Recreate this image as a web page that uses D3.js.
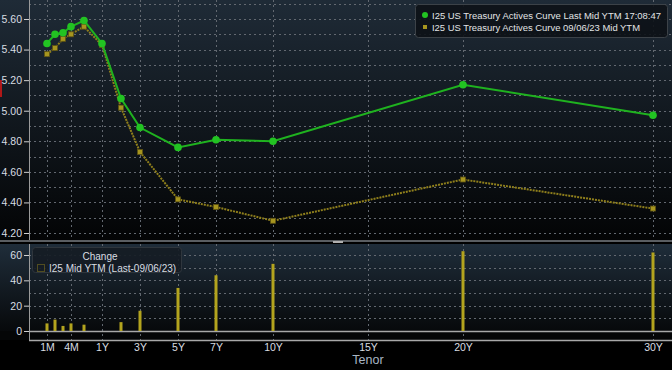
<!DOCTYPE html>
<html>
<head>
<meta charset="utf-8">
<script src="https://cdn.jsdelivr.net/npm/d3@7"></script>
<style>
  body { margin: 0; background: #000; }
  svg { display: block; }
  text { font-family: "Liberation Sans", Arial, sans-serif; }
</style>
</head>
<body>
<script>
// curve data
var tenors     = ["1M","2M","3M","4M","6M","1Y","2Y","3Y","5Y","7Y","10Y","20Y","30Y"];
var tenorYears = [1/12, 2/12, 3/12, 4/12, 6/12, 1, 2, 3, 5, 7, 10, 20, 30];
var lastYtm    = [5.44, 5.50, 5.51, 5.55, 5.59, 5.44, 5.08, 4.89, 4.76, 4.81, 4.80, 5.17, 4.97];
var prevYtm    = [5.37, 5.41, 5.47, 5.50, 5.55, 5.43, 5.02, 4.73, 4.42, 4.37, 4.28, 4.55, 4.36];
var changeBp   = [6, 9, 4, 6, 5, 0, 7, 16, 34, 44, 53, 63, 62];

var xTickLabels = ["1M","4M","1Y","3Y","5Y","7Y","10Y","15Y","20Y","30Y"];
var xTickYears  = [1/12, 4/12, 1, 3, 5, 7, 10, 15, 20, 30];
var yTicks      = [4.20, 4.40, 4.60, 4.80, 5.00, 5.20, 5.40, 5.60];
var yGrid       = [4.20, 4.30, 4.40, 4.50, 4.60, 4.70, 4.80, 4.90, 5.00, 5.10, 5.20, 5.30, 5.40, 5.50, 5.60, 5.70];
var chgTicks    = [0, 20, 40, 60];
var chgGrid     = [10, 20, 30, 40, 50, 60];

var legendTop = ["I25 US Treasury Actives Curve Last Mid YTM 17:08:47",
                 "I25 US Treasury Actives Curve 09/06/23 Mid YTM"];
var legendTopWidth = [229, 208];

var W = 672, H = 370;
var axisX = 29, rightX = 672;
var topY0 = 0, topY1 = 240;
var botY0 = 244, zeroY = 331, axisY = 340;

var green = "#22c322", olive = "#8f7f1c", bar = "#b3a41e";

var svg = d3.select("body").append("svg").attr("width", W).attr("height", H);

var defs = svg.append("defs");
var g1 = defs.append("linearGradient").attr("id", "gTop").attr("x1", 0).attr("x2", 0).attr("y1", 0).attr("y2", 1);
g1.append("stop").attr("offset", "0%").attr("stop-color", "#1f2b37");
g1.append("stop").attr("offset", "100%").attr("stop-color", "#030405");
var g2 = defs.append("linearGradient").attr("id", "gBot").attr("x1", 0).attr("x2", 0).attr("y1", 0).attr("y2", 1);
g2.append("stop").attr("offset", "0%").attr("stop-color", "#1f2d3a");
g2.append("stop").attr("offset", "100%").attr("stop-color", "#07090b");

svg.append("rect").attr("width", W).attr("height", H).attr("fill", "#000");
svg.append("rect").attr("x", 0).attr("y", topY0).attr("width", W).attr("height", topY1 - topY0).attr("fill", "url(#gTop)");
svg.append("rect").attr("x", 0).attr("y", botY0).attr("width", W).attr("height", zeroY - botY0).attr("fill", "url(#gBot)");
svg.append("rect").attr("x", 0).attr("y", zeroY).attr("width", W).attr("height", axisY - zeroY).attr("fill", "#050607");

// separator between panels
svg.append("rect").attr("x", 0).attr("y", topY1).attr("width", W).attr("height", 2).attr("fill", "#5a5e62");
svg.append("rect").attr("x", 333).attr("y", 241).attr("width", 10).attr("height", 2).attr("fill", "#b0b0b0");
svg.append("rect").attr("x", 0).attr("y", 80).attr("width", 2).attr("height", 17).attr("fill", "#b01818");

// scales: Bloomberg stretches the short end of the tenor axis
var x = d3.scaleLinear().domain([1/12, 1/3, 1/2, 1, 30]).range([47, 71, 84, 102, 653]);
var y = d3.scaleLinear().domain([4.20, 5.60]).range([233, 19]);
var yc = d3.scaleLinear().domain([0, 60]).range([zeroY, 255]);

// gridlines
var grid = svg.append("g").attr("stroke", "#626870").attr("stroke-width", 1).attr("stroke-dasharray", "2,3");
grid.selectAll(".hg").data(yGrid).enter().append("line")
  .attr("x1", axisX).attr("x2", rightX)
  .attr("y1", function (d) { return Math.round(y(d)) + 0.5; })
  .attr("y2", function (d) { return Math.round(y(d)) + 0.5; });
grid.selectAll(".hc").data(chgGrid).enter().append("line")
  .attr("x1", axisX).attr("x2", rightX)
  .attr("y1", function (d) { return Math.round(yc(d)) + 0.5; })
  .attr("y2", function (d) { return Math.round(yc(d)) + 0.5; });
grid.selectAll(".vt").data(xTickYears).enter().append("line")
  .attr("x1", function (d) { return Math.round(x(d)) + 0.5; })
  .attr("x2", function (d) { return Math.round(x(d)) + 0.5; })
  .attr("y1", topY0).attr("y2", topY1);
grid.selectAll(".vb").data(xTickYears).enter().append("line")
  .attr("x1", function (d) { return Math.round(x(d)) + 0.5; })
  .attr("x2", function (d) { return Math.round(x(d)) + 0.5; })
  .attr("y1", botY0).attr("y2", axisY);

// axes
var yAxis = d3.axisLeft(y).tickValues(yTicks).tickFormat(d3.format(".2f")).tickSize(5).tickPadding(2);
var ga = svg.append("g").attr("transform", "translate(" + axisX + ",0)").call(yAxis);
ga.select(".domain").attr("d", "M0.5," + topY0 + "V" + topY1);

var cAxis = d3.axisLeft(yc).tickValues(chgTicks).tickSize(5).tickPadding(2);
var gc = svg.append("g").attr("transform", "translate(" + axisX + ",0)").call(cAxis);
gc.select(".domain").attr("d", "M0.5," + botY0 + "V" + axisY);

var xAxis = d3.axisBottom(x).tickValues(xTickYears)
  .tickFormat(function (d, i) { return xTickLabels[i]; }).tickSize(0).tickPadding(4);
var gx = svg.append("g").attr("transform", "translate(0," + axisY + ")").call(xAxis);
gx.select(".domain").remove();

svg.selectAll(".tick line").attr("stroke", "#d0d0d0");
svg.selectAll(".domain").attr("stroke", "#9a9a9a");
svg.selectAll(".tick text").attr("fill", "#d8dde2").attr("font-size", 10.5);

svg.append("line").attr("x1", axisX).attr("x2", rightX).attr("y1", zeroY + 0.5).attr("y2", zeroY + 0.5)
  .attr("stroke", "#a8a8a8").attr("stroke-width", 1.5);
svg.append("line").attr("x1", axisX).attr("x2", rightX).attr("y1", axisY + 0.5).attr("y2", axisY + 0.5)
  .attr("stroke", "#a8a8a8").attr("stroke-width", 1.5);

svg.append("text").attr("x", 368).attr("y", 364).attr("text-anchor", "middle")
  .attr("fill", "#a9b6c4").attr("font-size", 12.5).text("Tenor");

// change bars
svg.selectAll(".bar").data(changeBp).enter().append("rect")
  .attr("x", function (d, i) { return x(tenorYears[i]) - 1.5; })
  .attr("y", function (d) { return yc(d); })
  .attr("width", 3)
  .attr("height", function (d) { return zeroY - yc(d); })
  .attr("fill", bar);

// previous curve (dotted olive)
var line = d3.line().x(function (d, i) { return x(tenorYears[i]); }).y(function (d) { return y(d); });
svg.append("path").datum(prevYtm).attr("d", line).attr("fill", "none")
  .attr("stroke", olive).attr("stroke-width", 2).attr("stroke-dasharray", "2,1");
svg.selectAll(".pm").data(prevYtm).enter().append("rect")
  .attr("x", function (d, i) { return x(tenorYears[i]) - 2.5; })
  .attr("y", function (d) { return y(d) - 2.5; })
  .attr("width", 5).attr("height", 5)
  .attr("fill", "#a6951f").attr("stroke", "#5e5312").attr("stroke-width", 0.8);

// last curve (green)
svg.append("path").datum(lastYtm).attr("d", line).attr("fill", "none")
  .attr("stroke", "#1fb21f").attr("stroke-width", 2);
svg.selectAll(".lm").data(lastYtm).enter().append("circle")
  .attr("cx", function (d, i) { return x(tenorYears[i]); })
  .attr("cy", function (d) { return y(d); })
  .attr("r", 3.8).attr("fill", green);

// top legend
var lg = svg.append("g");
lg.append("rect").attr("x", 415.5).attr("y", 4.5).attr("width", 252).attr("height", 33).attr("rx", 3)
  .attr("fill", "#0d1217").attr("fill-opacity", 0.9).attr("stroke", "#3c4248");
lg.append("circle").attr("cx", 425).attr("cy", 15).attr("r", 3).attr("fill", green);
lg.append("rect").attr("x", 423).attr("y", 25).attr("width", 4).attr("height", 4).attr("fill", "#a6951f");
lg.selectAll(".lt").data(legendTop).enter().append("text")
  .attr("x", 432).attr("y", function (d, i) { return 19 + i * 11.5; })
  .attr("fill", "#e2e4e6").attr("font-size", 9.2)
  .attr("textLength", function (d, i) { return legendTopWidth[i]; })
  .attr("lengthAdjust", "spacingAndGlyphs")
  .text(function (d) { return d; });

// bottom legend
var bl = svg.append("g");
bl.append("rect").attr("x", 32.5).attr("y", 247.5).attr("width", 149).attr("height", 25).attr("rx", 3)
  .attr("fill", "#151c23").attr("fill-opacity", 0.9).attr("stroke", "#2f363d");
bl.append("text").attr("x", 100).attr("y", 260).attr("text-anchor", "middle")
  .attr("fill", "#d8dde2").attr("font-size", 10).text("Change");
bl.append("rect").attr("x", 37.5).attr("y", 264.5).attr("width", 7).attr("height", 7)
  .attr("fill", "none").attr("stroke", "#8f7f1c").attr("stroke-dasharray", "1,1");
bl.append("text").attr("x", 49).attr("y", 272).attr("fill", "#d8dde2").attr("font-size", 10)
  .text("I25 Mid YTM (Last-09/06/23)");
</script>
</body>
</html>
